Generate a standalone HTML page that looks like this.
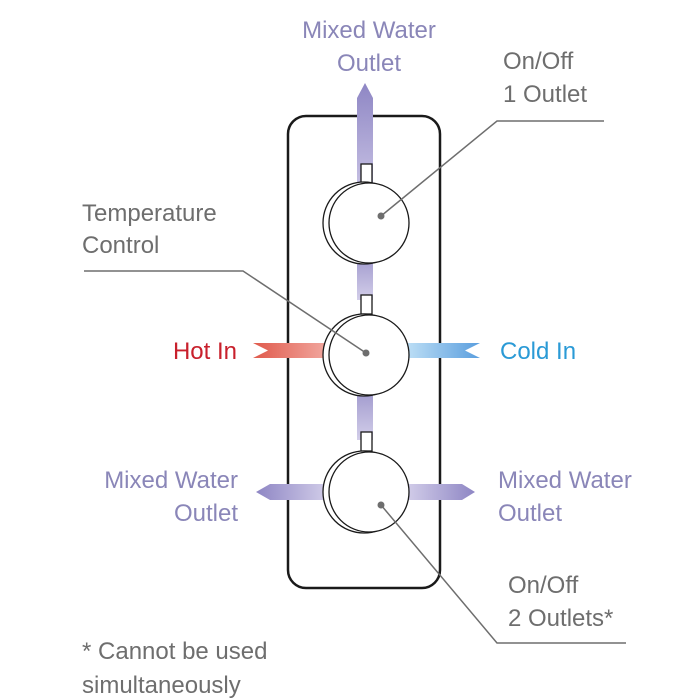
<!DOCTYPE html>
<html><head><meta charset="utf-8"><style>
html,body{margin:0;padding:0;background:#fff;}
svg{display:block;}
text{font-family:"Liberation Sans",sans-serif;font-size:24px;}
.g{fill:#6e6e6e;}
.p{fill:#8a86b8;}
</style></head><body>
<svg width="700" height="700" viewBox="0 0 700 700" xmlns="http://www.w3.org/2000/svg">
<defs>
<linearGradient id="vert" x1="0" y1="0" x2="0" y2="1">
<stop offset="0" stop-color="#8e86c4"/><stop offset="1" stop-color="#c8c2e4"/></linearGradient>
<linearGradient id="hot" x1="0" y1="0" x2="1" y2="0">
<stop offset="0" stop-color="#e05a4c"/><stop offset="1" stop-color="#f2aaa2"/></linearGradient>
<linearGradient id="cold" x1="0" y1="0" x2="1" y2="0">
<stop offset="0" stop-color="#bfe0f6"/><stop offset="1" stop-color="#5a9ede"/></linearGradient>
<linearGradient id="ml" x1="0" y1="0" x2="1" y2="0">
<stop offset="0" stop-color="#8e86c4"/><stop offset="1" stop-color="#d4cfea"/></linearGradient>
<linearGradient id="mr" x1="0" y1="0" x2="1" y2="0">
<stop offset="0" stop-color="#d4cfea"/><stop offset="1" stop-color="#8e86c4"/></linearGradient>
</defs>
<rect x="288" y="116" width="152" height="472" rx="18" fill="none" stroke="#1a1a1a" stroke-width="2.5"/>
<polygon points="357,98 365,83 373,98 373,190 357,190" fill="url(#vert)"/>
<rect x="357" y="260" width="16" height="40" fill="url(#vert)" opacity="0.8"/>
<rect x="357" y="395" width="16" height="45" fill="url(#vert)" opacity="0.8"/>
<polygon points="253,343 330,343 330,358 253,358 268,350.5" fill="url(#hot)"/>
<polygon points="405,343 480,343 465,350.5 480,358 405,358" fill="url(#cold)"/>
<polygon points="256,492 270,484 330,484 330,500 270,500" fill="url(#ml)"/>
<polygon points="405,484 462,484 475,492 462,500 405,500" fill="url(#mr)"/>
<g fill="#fff" stroke="#1a1a1a" stroke-width="1.3">
<rect x="361" y="164" width="11" height="19"/>
<circle cx="364" cy="223" r="41"/>
<circle cx="369" cy="223" r="40"/>
<rect x="361" y="295" width="11" height="19"/>
<circle cx="364" cy="355" r="41"/>
<circle cx="369" cy="355" r="40"/>
<rect x="361" y="432" width="11" height="19"/>
<circle cx="364" cy="492" r="41"/>
<circle cx="369" cy="492" r="40"/>
</g>
<g stroke="#6e6e6e" stroke-width="1.5" fill="none">
<polyline points="381,216 497,121 604,121"/>
<polyline points="84,271 243,271 366,353"/>
<polyline points="381,505 497,643 626,643"/>
</g>
<g fill="#6e6e6e"><circle cx="381" cy="216" r="3.5"/><circle cx="366" cy="353" r="3.5"/><circle cx="381" cy="505" r="3.5"/></g>
<text class="p" x="369" y="38" text-anchor="middle">Mixed Water</text>
<text class="p" x="369" y="71" text-anchor="middle">Outlet</text>
<text class="g" x="503" y="69">On/Off</text>
<text class="g" x="503" y="102">1 Outlet</text>
<text class="g" x="82" y="221">Temperature</text>
<text class="g" x="82" y="253">Control</text>
<text x="237" y="359" text-anchor="end" fill="#c8202c">Hot In</text>
<text x="500" y="359" fill="#2a9ad6">Cold In</text>
<text class="p" x="238" y="488" text-anchor="end">Mixed Water</text>
<text class="p" x="238" y="521" text-anchor="end">Outlet</text>
<text class="p" x="498" y="488">Mixed Water</text>
<text class="p" x="498" y="521">Outlet</text>
<text class="g" x="508" y="593">On/Off</text>
<text class="g" x="508" y="626">2 Outlets*</text>
<text class="g" x="82" y="659">* Cannot be used</text>
<text class="g" x="82" y="693">simultaneously</text>
</svg>
</body></html>
